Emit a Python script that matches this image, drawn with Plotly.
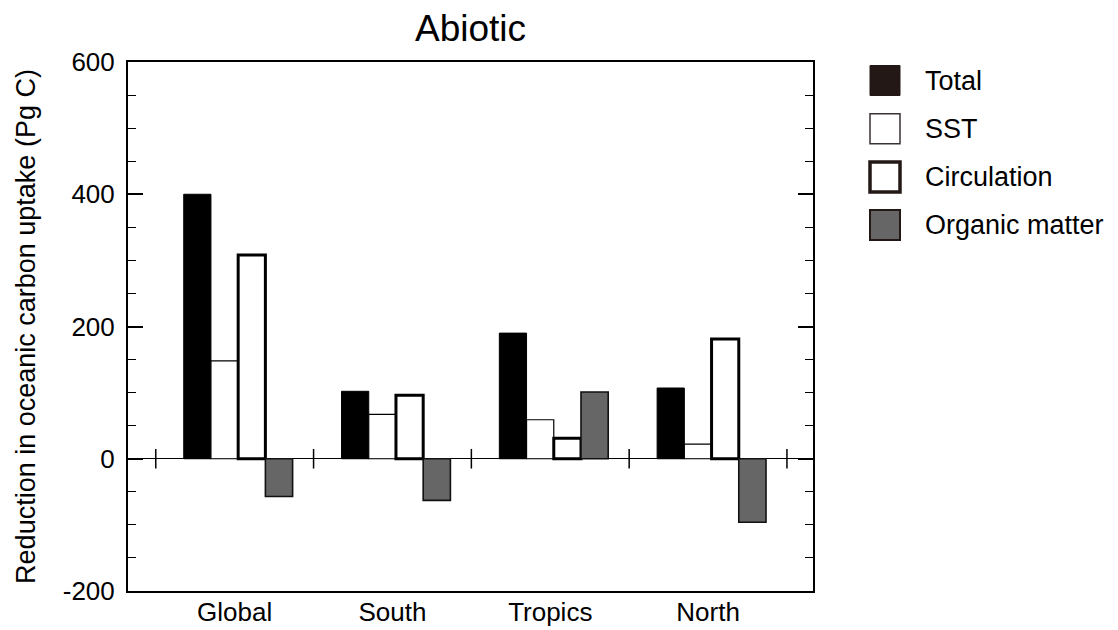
import plotly.graph_objects as go

# ---- data ----
categories = ["Global", "South", "Tropics", "North"]
total = [400, 102, 190, 107]
sst = [148, 67, 59, 22]
circulation = [308, 96, 31, 181]
organic = [-57, -63, 101, -96]
series_names = ["Total", "SST", "Circulation", "Organic matter"]
y_ticks = [-200, 0, 200, 400, 600]
y_tick_labels = [str(v) for v in y_ticks]

# ---- layout constants ----
W, H = 1118, 630
L, R, T, B = 128, 305, 62, 39
PW, PH = W - L - R, H - T - B
FONT = "Liberation Sans, Arial, Helvetica, sans-serif"
X_RANGE = [-0.676, 3.665]
UNIT_PX = PW / (X_RANGE[1] - X_RANGE[0])


def xp(px):
    return (px - L) / PW


def yp(py):
    return 1 - (py - T) / PH


xpos = list(range(len(categories)))

styles = [
    dict(color="#000000", line=dict(color="#000000", width=1)),
    dict(color="#ffffff", line=dict(color="#000000", width=1.2)),
    dict(color="#ffffff", line=dict(color="#000000", width=3)),
    dict(color="#666666", line=dict(color="#111111", width=1.6)),
]

n_series = len(series_names)
bar_w = (1 - 0.31) / n_series
group_shift = 3.5 / UNIT_PX

fig = go.Figure()
for k, (name, vals, st) in enumerate(zip(series_names, [total, sst, circulation, organic], styles)):
    fig.add_trace(go.Bar(
        x=xpos, y=vals, name=name, marker=st, showlegend=False,
        width=bar_w, offset=-bar_w * n_series / 2 + k * bar_w + group_shift,
    ))

# category-boundary ticks on the zero line
bounds = [i - 0.5 for i in range(len(categories) + 1)]
fig.add_trace(go.Scatter(
    x=bounds, y=[0] * len(bounds), mode="markers", showlegend=False,
    marker=dict(symbol="line-ns", size=14, line=dict(color="#000000", width=1.5)),
    hoverinfo="skip", cliponaxis=False,
))

# manual legend (large swatches)
leg_fill = ["#231815", "#ffffff", "#ffffff", "#666666"]
leg_line = ["#231815", "#3a3333", "#231815", "#231815"]
leg_lw = [1, 1.5, 3.5, 2]
shapes = []
annotations = []
for i, name in enumerate(series_names):
    cy = 80.5 + i * 48.2
    shapes.append(dict(
        type="rect", xref="paper", yref="paper",
        x0=xp(870), x1=xp(900), y0=yp(cy + 15), y1=yp(cy - 15),
        fillcolor=leg_fill[i], line=dict(color=leg_line[i], width=leg_lw[i]),
    ))
    annotations.append(dict(
        xref="paper", yref="paper", x=xp(923), y=yp(cy),
        xanchor="left", yanchor="middle", text=name, showarrow=False,
        font=dict(family=FONT, size=27, color="#000000"),
    ))

fig.update_layout(
    width=W, height=H,
    margin=dict(l=L, r=R, t=T, b=B, autoexpand=False),
    paper_bgcolor="#ffffff", plot_bgcolor="#ffffff",
    font=dict(family=FONT, size=26, color="#000000"),
    barmode="overlay",
    title=dict(text="Abiotic", x=0.5, xref="paper", xanchor="center",
               y=1 - 28 / H, yref="container", yanchor="middle",
               font=dict(family=FONT, size=37, color="#000000")),
    shapes=shapes, annotations=annotations,
    xaxis=dict(
        range=X_RANGE, tickmode="array", tickvals=xpos, ticktext=categories,
        showline=True, linecolor="#000000", linewidth=2, mirror=True,
        ticks="", showgrid=False, zeroline=False,
        tickfont=dict(family=FONT, size=26), ticklabelstandoff=-3,
    ),
    yaxis=dict(
        range=[-200, 600], tickmode="array", tickvals=y_ticks, ticktext=y_tick_labels,
        ticks="inside", ticklen=15, tickwidth=2, tickcolor="#000000",
        minor=dict(dtick=50, ticks="inside", ticklen=8, tickwidth=1, tickcolor="#000000"),
        showline=True, linecolor="#000000", linewidth=2, mirror="ticks",
        showgrid=False, zeroline=True, zerolinecolor="#000000", zerolinewidth=1,
        tickfont=dict(family=FONT, size=26), ticklabelstandoff=6,
        title=dict(text="Reduction in oceanic carbon uptake (Pg C)", standoff=19,
                   font=dict(family=FONT, size=27)),
    ),
)

fig.write_html(
    "out.html",
    config={"displayModeBar": False},
    post_script="document.body.style.margin='0';document.body.style.overflow='hidden';",
)
